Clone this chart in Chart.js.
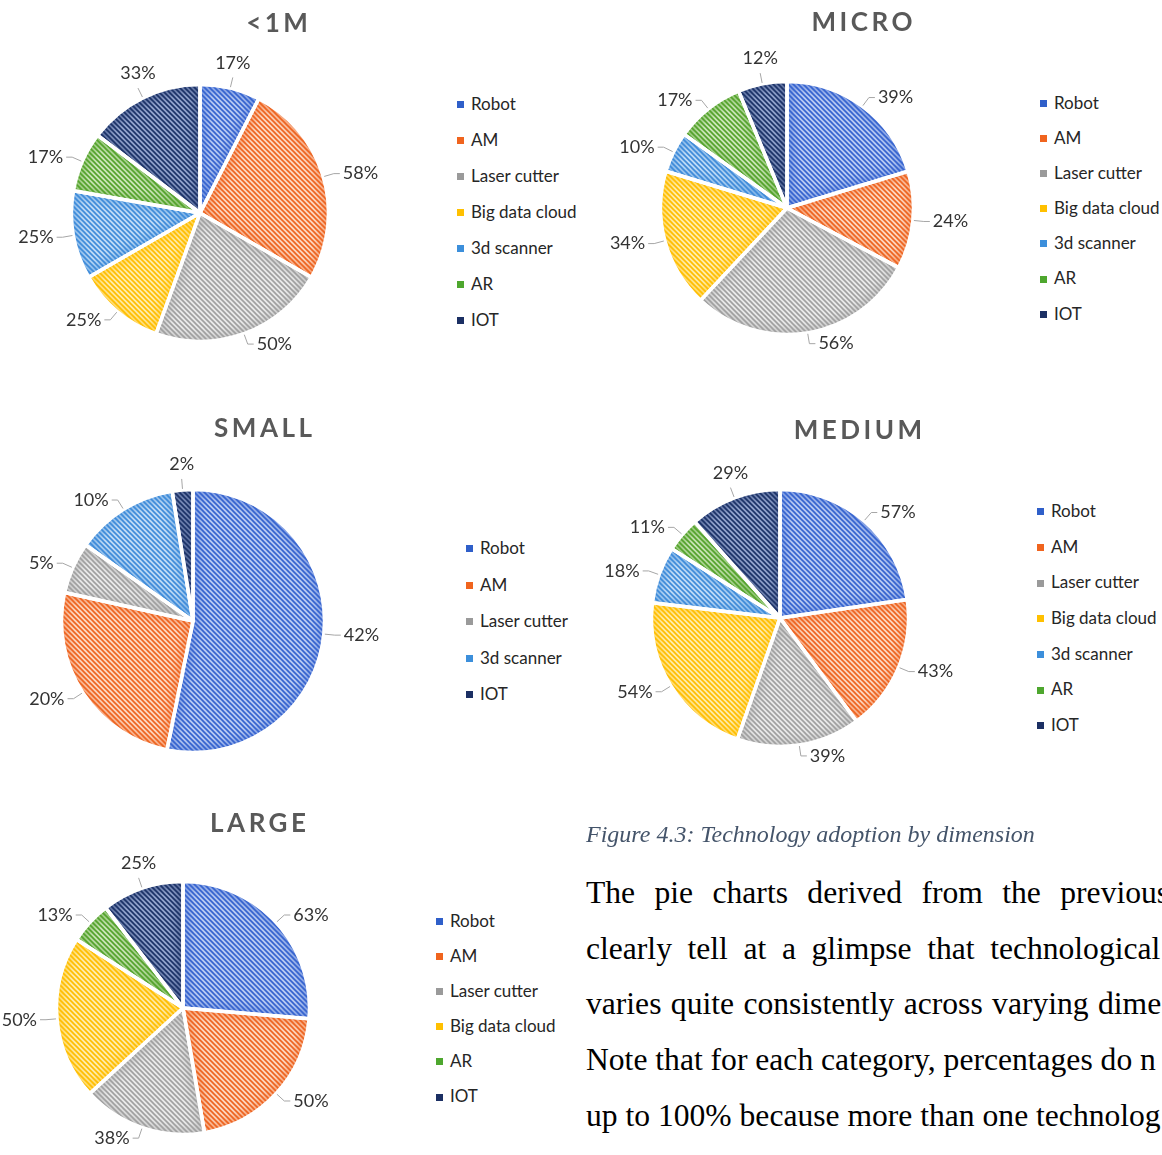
<!DOCTYPE html>
<html><head><meta charset="utf-8">
<script src="https://cdn.jsdelivr.net/npm/chart.js@4.4.1/dist/chart.umd.min.js"></script>
<style>
html,body{margin:0;padding:0;background:#fff;}
body{width:1162px;height:1155px;overflow:hidden;position:relative;font-family:Lato,'Noto Sans',sans-serif;}
.pie{position:absolute;width:460px;height:460px;}
.title{position:absolute;font-weight:700;font-size:26px;line-height:26px;color:#595959;letter-spacing:3.5px;padding-left:3.5px;white-space:nowrap;transform:translateX(-50%);}
.legend{position:absolute;font-size:17px;color:#262626;}
.legend div{white-space:nowrap;}
.legend span.box{display:inline-block;width:7px;height:7px;margin-right:7px;vertical-align:middle;position:relative;top:-1px;}
.caption{position:absolute;left:586px;top:822px;font-family:'Liberation Serif','Times New Roman',serif;font-style:italic;font-size:24px;line-height:24px;color:#44546A;white-space:nowrap;}
.bl{position:absolute;left:586px;font-family:'Liberation Serif','Times New Roman',serif;font-size:31.6px;line-height:31px;color:#000;white-space:nowrap;}
</style></head>
<body>
<script>
// ---------- DATA ----------
const cats1M = ['Robot','AM','Laser cutter','Big data cloud','3d scanner','AR','IOT'];
const vals1M = [17,58,50,25,25,17,33];
const catsMicro = ['Robot','AM','Laser cutter','Big data cloud','3d scanner','AR','IOT'];
const valsMicro = [39,24,56,34,10,17,12];
const catsSmall = ['Robot','AM','Laser cutter','3d scanner','IOT'];
const valsSmall = [42,20,5,10,2];
const catsMedium = ['Robot','AM','Laser cutter','Big data cloud','3d scanner','AR','IOT'];
const valsMedium = [57,43,39,54,18,11,29];
const catsLarge = ['Robot','AM','Laser cutter','Big data cloud','AR','IOT'];
const valsLarge = [63,50,38,50,13,25];
const titles = ['<1M','MICRO','SMALL','MEDIUM','LARGE'];

// ---------- STYLE ----------
const PALETTE = {
  'Robot':         {dark:'#3563CF', light:'#BACBF2', key:'#2F5FC9'},
  'AM':            {dark:'#EE6420', light:'#FDD8C2', key:'#F0641E'},
  'Laser cutter':  {dark:'#A0A0A0', light:'#EAEAEA', key:'#9A9A9A'},
  'Big data cloud':{dark:'#FFBE00', light:'#FFEDAE', key:'#FFC000'},
  '3d scanner':    {dark:'#3E8BDA', light:'#C2DCF5', key:'#3C8FDB'},
  'AR':            {dark:'#54A32C', light:'#CDE6BA', key:'#4EA72E'},
  'IOT':           {dark:'#1B3267', light:'#94A5CE', key:'#1B2F63'}
};
const LAYOUT = [
  {cx:200, cy:213, R:127, tx:277, ty:9,   lx:457,  ly:86,    step:36},
  {cx:787, cy:208, R:125, tx:862, ty:8,   lx:1040, ly:84.5,  step:35.2},
  {cx:193, cy:621, R:130, tx:263, ty:414, lx:466,  ly:530,   step:36.5},
  {cx:780, cy:618, R:127, tx:858, ty:416, lx:1037, ly:493,   step:35.7},
  {cx:183, cy:1008,R:125, tx:258, ty:809, lx:436,  ly:902.5, step:35.2}
];
const SERIES = [[cats1M,vals1M],[catsMicro,valsMicro],[catsSmall,valsSmall],[catsMedium,valsMedium],[catsLarge,valsLarge]];

function makePattern(dark, light){
  const T=5, c=document.createElement('canvas'); c.width=T; c.height=T;
  const g=c.getContext('2d');
  g.fillStyle=light; g.fillRect(0,0,T,T);
  g.strokeStyle=dark; g.lineWidth=1.6;
  g.beginPath();
  g.moveTo(-1,-1); g.lineTo(T+1,T+1);
  g.moveTo(-1,T-1); g.lineTo(1,T+1);
  g.moveTo(T-1,-1); g.lineTo(T+1,1);
  g.stroke();
  return g.createPattern(c,'repeat');
}

const piePlugin = {
  id:'pieDecor',
  afterDatasetsDraw(chart){
    const ctx=chart.ctx, meta=chart.getDatasetMeta(0), cats=chart.data.labels;
    meta.data.forEach((arc,i)=>{
      const p=arc.getProps(['x','y','startAngle','endAngle','outerRadius'],true);
      ctx.save();
      ctx.beginPath(); ctx.moveTo(p.x,p.y); ctx.arc(p.x,p.y,p.outerRadius,p.startAngle,p.endAngle); ctx.closePath();
      ctx.clip();
      ctx.filter='blur(4px)';
      ctx.globalAlpha=0.5;
      ctx.strokeStyle=PALETTE[cats[i]].dark; ctx.lineWidth=12;
      ctx.beginPath(); ctx.moveTo(p.x,p.y); ctx.arc(p.x,p.y,p.outerRadius,p.startAngle,p.endAngle); ctx.closePath();
      ctx.stroke();
      ctx.restore();
    });
    meta.data.forEach((arc)=>{
      const p=arc.getProps(['x','y','startAngle','endAngle','outerRadius'],true);
      ctx.save();
      ctx.strokeStyle='#fff'; ctx.lineWidth=3.5; ctx.lineJoin='round';
      ctx.beginPath(); ctx.moveTo(p.x,p.y); ctx.arc(p.x,p.y,p.outerRadius,p.startAngle,p.endAngle); ctx.closePath();
      ctx.stroke();
      ctx.restore();
    });
    const vals=chart.data.datasets[0].data;
    ctx.save();
    ctx.font='18px Lato'; ctx.fillStyle='#333333'; ctx.strokeStyle='#A6A6A6'; ctx.lineWidth=1;
    ctx.textAlign='center'; ctx.textBaseline='middle';
    meta.data.forEach((arc,i)=>{
      const p=arc.getProps(['x','y','startAngle','endAngle','outerRadius'],true);
      const mid=(p.startAngle+p.endAngle)/2, dx=Math.cos(mid), dy=Math.sin(mid);
      const R=p.outerRadius, txt=vals[i]+'%', w=ctx.measureText(txt).width, h=13;
      const x0=p.x+(R+1)*dx, y0=p.y+(R+1)*dy;
      const x1=p.x+(R+11)*dx, y1=p.y+(R+11)*dy;
      const thr = dy<0 ? 0.5 : 0.1;
      let lx,ly;
      ctx.beginPath(); ctx.moveTo(x0,y0); ctx.lineTo(x1,y1);
      if(Math.abs(dx)>thr){ const s=Math.sign(dx); ctx.lineTo(x1+s*6,y1); lx=x1+s*(9+w/2); ly=y1; }
      else { const s=Math.sign(dy); lx=x1; ly=y1+s*(h/2+8); }
      ctx.stroke();
      ctx.fillText(txt,lx,ly);
    });
    ctx.restore();
  }
};

SERIES.forEach(([cats,vals],k)=>{
  const L=LAYOUT[k];
  const wrap=document.createElement('div'); wrap.className='pie';
  wrap.style.left=(L.cx-230)+'px'; wrap.style.top=(L.cy-230)+'px';
  const cv=document.createElement('canvas'); cv.width=460; cv.height=460;
  wrap.appendChild(cv); document.body.appendChild(wrap);
  new Chart(cv,{
    type:'pie',
    data:{labels:cats,datasets:[{data:vals,
      backgroundColor:cats.map(c=>makePattern(PALETTE[c].dark,PALETTE[c].light)),
      borderColor:'#fff',borderWidth:3}]},
    options:{responsive:false,animation:false,radius:L.R+1.5,
      layout:{padding:0},
      plugins:{legend:{display:false},tooltip:{enabled:false},title:{display:false}}},
    plugins:[piePlugin]
  });
  const t=document.createElement('div'); t.className='title'; t.textContent=titles[k];
  t.style.left=L.tx+'px'; t.style.top=L.ty+'px'; document.body.appendChild(t);
  const lg=document.createElement('div'); lg.className='legend';
  lg.style.left=L.lx+'px'; lg.style.top=L.ly+'px';
  cats.forEach(c=>{
    const r=document.createElement('div'); r.style.height=L.step+'px'; r.style.lineHeight=L.step+'px';
    const b=document.createElement('span'); b.className='box'; b.style.background=PALETTE[c].key;
    r.appendChild(b); r.appendChild(document.createTextNode(c)); lg.appendChild(r);
  });
  document.body.appendChild(lg);
});

const caption='Figure 4.3: Technology adoption by dimension';
const bodyLines=['The pie charts derived from the previous','clearly tell at a glimpse that technological','varies quite consistently across varying dime','Note that for each category, percentages do n','up to 100% because more than one technolog'];
const wordSpacing=[11.5,7.7,1.5,0,0];
const cap=document.createElement('div'); cap.className='caption'; cap.textContent=caption; document.body.appendChild(cap);
bodyLines.forEach((s,i)=>{
  const d=document.createElement('div'); d.className='bl'; d.textContent=s;
  d.style.top=(877+i*55.7)+'px'; d.style.wordSpacing=wordSpacing[i]+'px';
  document.body.appendChild(d);
});
</script>
</body></html>
